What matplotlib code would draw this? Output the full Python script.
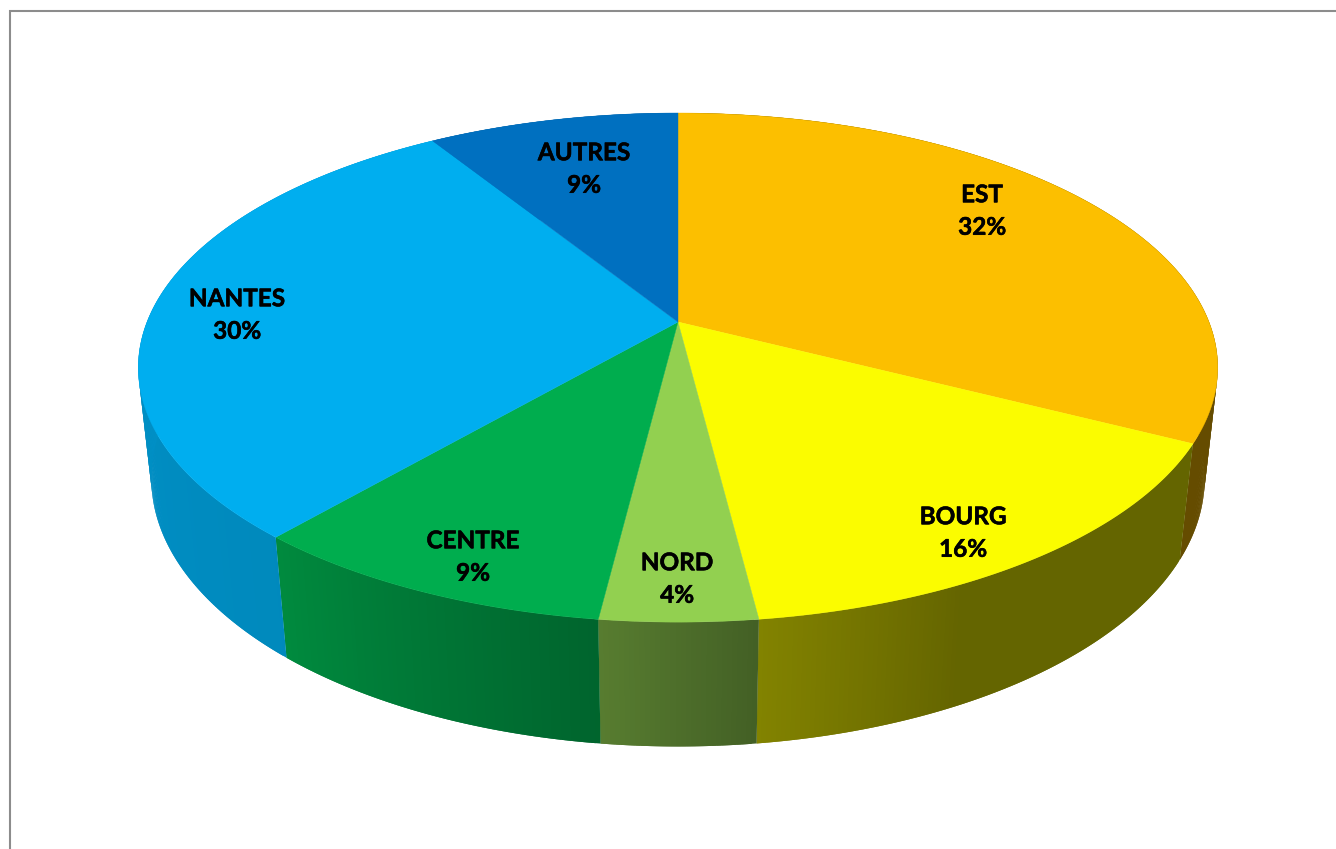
import numpy as np
import matplotlib
matplotlib.use('Agg')
import matplotlib.pyplot as plt
import matplotlib.patheffects as pe
from matplotlib.collections import PolyCollection

names = ["EST", "BOURG", "NORD", "CENTRE", "NANTES", "AUTRES"]
values = [32.5, 15.5, 3.97, 9.4, 29.7, 8.93]
percents = [32, 16, 4, 9, 30, 9]

top_colors = [(252, 191, 0), (251, 252, 0), (146, 208, 80), (0, 173, 78), (0, 174, 239), (0, 112, 192)]
# wall shade at the clockwise start and end of each slice
shade_start = [0.40, 0.40, 0.46, 0.58, 0.79, 0.80]
shade_end = [0.40, 0.52, 0.60, 0.80, 0.87, 0.80]
# part of the slice, counted from its end, over which the shade changes
shade_span = [1.0, 0.35, 1.0, 1.0, 1.0, 1.0]

label_x = [982, 963, 677, 473, 237, 584]
label_y = [211, 533, 579, 557, 315, 169]

# projection of the disc, in pixels
cx, cy = 678, 322
rx, ry, persp = 531, 246.4, 0.179
wall_c, wall_e = 0.024, 120


def rim(theta):
	u, v = np.sin(theta), np.cos(theta)
	w = 1 + persp * v
	return cx + rx * u / w, cy - ry * v / w


def rim_bottom(theta):
	u, v = np.sin(theta), np.cos(theta)
	w = 1 + persp * v
	return cx + rx * u / (w + wall_c), (cy * w - ry * v + wall_e) / (w + wall_c)


def shaded(color, shade):
	return tuple(c * shade / 255 for c in color)


fig = plt.figure(figsize=(13.36, 8.49), dpi=100, facecolor='white')
ax = fig.add_axes([0, 0, 1, 1])
ax.set_xlim(0, 1336)
ax.set_ylim(849, 0)
ax.axis('off')

ax.plot([10, 10, 1336], [849, 11, 11], color='#8c8c8c', lw=1.5, solid_joinstyle='miter', zorder=1)

edges = np.cumsum([0] + values) / sum(values) * 2 * np.pi

# walls: every strip runs under the next one so no seams show
quads, quad_colors = [], []
for i in range(len(values)):
	n = max(int(values[i] * 8), 12)
	t = np.linspace(edges[i], edges[i + 1], n + 1)
	x1, y1 = rim(t)
	x2, y2 = rim_bottom(t)
	for j in range(n):
		f = (j + 0.5) / n
		f = max((f - (1 - shade_span[i])) / shade_span[i], 0)
		s = shade_start[i] + (shade_end[i] - shade_start[i]) * f
		k = min(j + 2, n)
		quads.append([(x1[j], y1[j]), (x1[j + 1], y1[j + 1]), (x1[k], y1[k]),
			(x2[k], y2[k]), (x2[j + 1], y2[j + 1]), (x2[j], y2[j])])
		quad_colors.append(shaded(top_colors[i], s))

walls = PolyCollection(quads, facecolors=quad_colors, edgecolors='none', linewidths=0, zorder=2)
ax.add_collection(walls)

# top faces
for i in range(len(values)):
	t = np.linspace(edges[i], edges[i + 1], 200)
	x, y = rim(t)
	ax.fill(np.r_[cx, x], np.r_[cy, y], color=shaded(top_colors[i], 1), lw=0.3, zorder=3)

for i in range(len(values)):
	ax.text(label_x[i], label_y[i], "%s\n%d%%" % (names[i], percents[i]), family='Lato',
		fontweight='bold', fontsize=17.5, ha='center', va='center', linespacing=1.5, color='black', zorder=4,
		path_effects=[pe.withStroke(linewidth=0.4, foreground='black')])

fig.savefig('out.png', dpi=100)
